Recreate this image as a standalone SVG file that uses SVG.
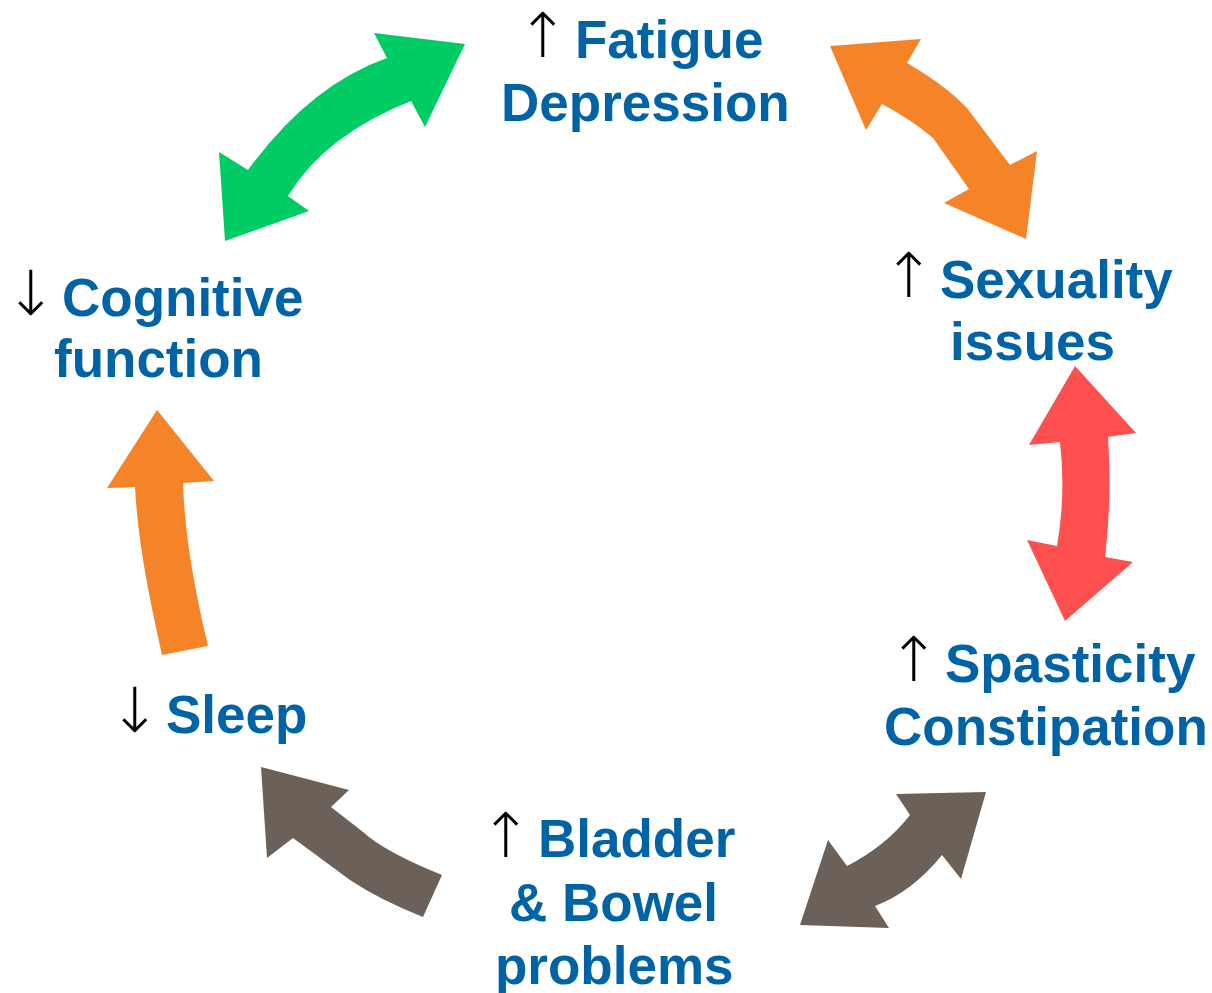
<svg xmlns="http://www.w3.org/2000/svg" width="1212" height="993" viewBox="0 0 1212 993">
<style>
.lbl{font-family:"Liberation Sans",Arial,sans-serif;font-weight:bold;font-size:53px;fill:#0063a6}
.ar{font-family:"DejaVu Sans",sans-serif;font-weight:300;font-size:62px;fill:#000}
.green{fill:#00cc66}.orange{fill:#f58328}.red{fill:#ff5050}.gray{fill:#6b6158}
</style>
<rect width="1212" height="993" fill="#fff"/>
<g id="connectors">
<path class="green" d="M465,44 L374,33 L387,58 Q310,85 248,170 L219,152 L225,241 L309,211 L288,196 Q325,135 411,101 L425,127 Z"/>
<path class="orange" d="M830,46 L921,39 L907,63 Q945,85 967,108 L1010,165 L1037,151 L1026,239 L944,203 L969,189 L933,138 Q912,120 882,104 L866,130 Z"/>
<path class="red" d="M1075,366 L1136,433 L1108,437 Q1112,500 1105,557 L1133,562 L1065,621 L1027,540 L1057,546 Q1066,495 1060,442 L1029,445 Z"/>
<path class="gray" d="M986,792 L961,879 L942,855 Q912,892 875,906 L889,928 L800,925 L828,840 L847,866 Q886,846 910,815 L896,794 Z"/>
<path class="gray" d="M261,767 L349,790 L331,807 L363,832 Q385,852 442,875 L423,917 Q380,900 350,880 L293,838 L267,858 Z"/>
<path class="orange" d="M157,410 L214,481 L183,483 C185,540 195,590 208,646 L162,655 C150,600 138,545 135,487 L107,488 Z"/>
</g>
<g id="fatigue">
<text class="ar" x="517" y="57">↑</text>
<text class="lbl" x="575" y="58">Fatigue</text>
<text class="lbl" x="501" y="121">Depression</text>
</g>
<g id="sexuality">
<text class="ar" x="883" y="297">↑</text>
<text class="lbl" x="940" y="298">Sexuality</text>
<text class="lbl" x="950" y="360">issues</text>
</g>
<g id="spasticity">
<text class="ar" x="888" y="681">↑</text>
<text class="lbl" x="945" y="682">Spasticity</text>
<text class="lbl" x="884" y="745">Constipation</text>
</g>
<g id="bladder">
<text class="ar" x="480" y="857">↑</text>
<text class="lbl" x="538" y="857">Bladder</text>
<text class="lbl" x="509" y="921">&amp; Bowel</text>
<text class="lbl" x="495" y="984">problems</text>
</g>
<g id="sleep">
<text class="ar" x="109" y="732">↓</text>
<text class="lbl" x="166" y="733">Sleep</text>
</g>
<g id="cognitive">
<text class="ar" x="5" y="315">↓</text>
<text class="lbl" x="62" y="316">Cognitive</text>
<text class="lbl" x="54" y="377">function</text>
</g>
</svg>
